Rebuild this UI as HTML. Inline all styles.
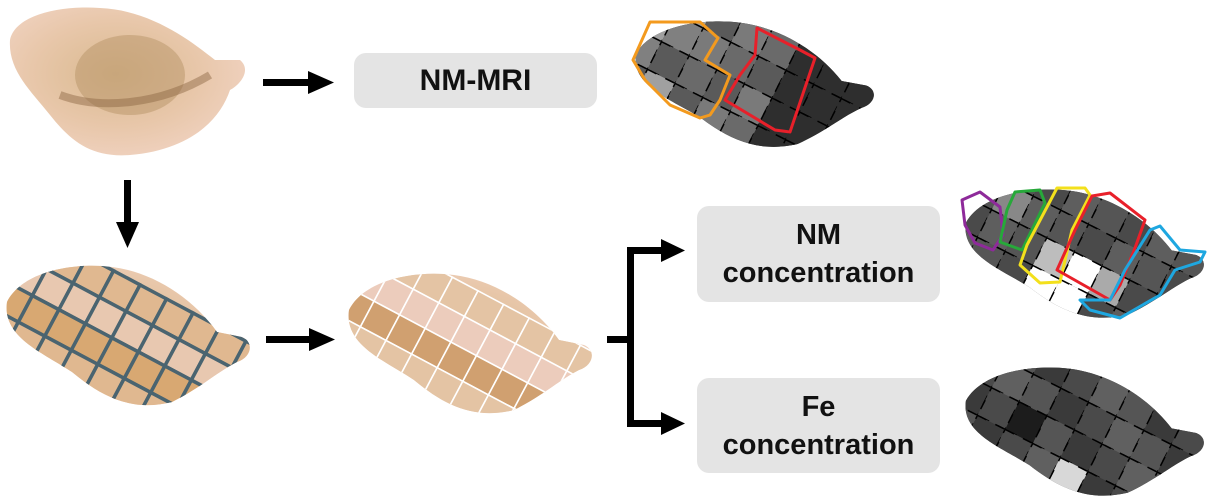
<!DOCTYPE html>
<html><head><meta charset="utf-8">
<style>
html,body{margin:0;padding:0;background:#fff;overflow:hidden;}
body{width:1213px;height:499px;overflow:hidden;position:relative;font-family:"Liberation Sans",Arial,sans-serif;}
.box{position:absolute;background:#e4e4e4;border-radius:12px;display:flex;align-items:center;justify-content:center;text-align:center;font-weight:bold;color:#111;}
svg{position:absolute;left:0;top:0;display:block;}
</style></head><body>
<svg id="s" width="1213" height="499" viewBox="0 0 1213 499">
<defs>
<path id="blob" d="M5,40 C20,10 70,0 110,5 C150,10 190,35 215,70 L240,75 C252,80 250,95 235,100 C215,110 200,125 170,140 C130,150 100,135 70,110 C40,90 0,75 5,40 Z"/>
<clipPath id="c1"><use href="#blob" transform="translate(2,262)"/></clipPath>
<clipPath id="c2"><use href="#blob" transform="translate(344,270)"/></clipPath>
<clipPath id="m1"><use href="#blob" transform="translate(631,18) scale(0.98,0.9)"/></clipPath>
<clipPath id="m2"><use href="#blob" transform="translate(961,186) scale(0.98,0.92)"/></clipPath>
<clipPath id="m3"><use href="#blob" transform="translate(961,364) scale(0.98,0.92)"/></clipPath>
<radialGradient id="tg" cx="0.45" cy="0.45" r="0.6"><stop offset="0" stop-color="#d9b98f"/><stop offset="0.6" stop-color="#e8c7aa"/><stop offset="1" stop-color="#f0d2c0"/></radialGradient>
</defs>
<path d="M10,40 C15,15 60,5 100,8 C150,10 190,40 215,60 L240,60 C252,70 240,85 230,90 C220,120 190,150 130,155 C90,158 70,140 50,115 C30,90 8,70 10,40Z" fill="url(#tg)"/>
<ellipse cx="130" cy="75" rx="55" ry="40" fill="#b89468" opacity="0.5"/>
<path d="M60,95 C100,110 160,105 210,75" stroke="#8a6440" stroke-width="8" fill="none" opacity="0.45"/>
<use href="#blob" transform="translate(2,262)" fill="url(#tg)"/>
<g id="g1" clip-path="url(#c1)"></g>
<use href="#blob" transform="translate(344,270)" fill="url(#tg)"/>
<g id="g2" clip-path="url(#c2)"></g>
<use href="#blob" transform="translate(631,18) scale(0.98,0.9)" fill="#2a2a2a"/>
<g id="g3" clip-path="url(#m1)"></g>
<use href="#blob" transform="translate(961,186) scale(0.98,0.92)" fill="#3a3a3a"/>
<g id="g4" clip-path="url(#m2)"></g>
<use href="#blob" transform="translate(961,364) scale(0.98,0.92)" fill="#444"/>
<g id="g5" clip-path="url(#m3)"></g>
<g fill="none" stroke-width="3" stroke-linejoin="round">
<polygon stroke="#f39a1e" points="633,60 650,22 700,22 718,38 705,60 730,75 720,100 710,115 700,118 670,105 645,80"/>
<polygon stroke="#e8202a" points="757,28 800,50 815,58 790,132 775,130 725,100 740,75 755,55"/>
<polygon stroke="#8e2a9a" points="962,200 980,192 1000,207 1003,235 993,250 975,243 965,225"/>
<polygon stroke="#27a83a" points="1015,192 1040,190 1045,203 1022,250 1000,242 1007,210"/>
<polygon stroke="#f3e01c" points="1057,188 1085,188 1090,195 1072,230 1060,282 1040,283 1020,265 1027,245"/>
<polygon stroke="#e8202a" points="1092,196 1110,193 1145,220 1135,248 1120,285 1110,300 1057,270 1075,230"/>
<polygon stroke="#1ea7e0" points="1150,230 1160,226 1180,250 1205,252 1200,262 1175,270 1160,295 1120,318 1090,310 1080,300 1110,300 1125,270"/>
</g>
<g fill="#000">
<rect x="263" y="79" width="48" height="7"/><polygon points="308,71 334,82.5 308,94"/>
<rect x="124" y="180" width="7" height="45"/><polygon points="116,222 139,222 127.5,248"/>
<rect x="266" y="336" width="46" height="7"/><polygon points="309,328 335,339.5 309,351"/>
<rect x="607" y="336" width="24" height="7"/>
<rect x="627" y="247" width="7" height="180"/>
<rect x="627" y="247" width="38" height="7"/><polygon points="661,239 685,250.5 661,262"/>
<rect x="627" y="420" width="38" height="7"/><polygon points="661,412 685,423.5 661,435"/>
</g>
</svg>
<div class="box" style="left:354px;top:53px;width:243px;height:55px;font-size:30px;">NM-MRI</div>
<div class="box" style="left:697px;top:206px;width:243px;height:96px;font-size:29px;line-height:38px;">NM<br>concentration</div>
<div class="box" style="left:697px;top:378px;width:243px;height:95px;font-size:29px;line-height:38px;">Fe<br>concentration</div>
<script>
var NS="http://www.w3.org/2000/svg";
function grid(id,ox,oy,ang,sz,nx,ny,fill,stroke,sw,dash){
  var g=document.getElementById(id);
  var a=ang*Math.PI/180,c=Math.cos(a),s=Math.sin(a);
  var k=0;
  for(var i=-1;i<nx;i++)for(var j=-1;j<ny;j++){
    var x=ox+i*sz*c-j*sz*s, y=oy+i*sz*s+j*sz*c;
    var r=document.createElementNS(NS,"rect");
    r.setAttribute("x",0);r.setAttribute("y",0);r.setAttribute("width",sz);r.setAttribute("height",sz);
    r.setAttribute("transform","translate("+x+","+y+") rotate("+ang+")");
    r.setAttribute("fill",fill(i,j,k++));
    if(stroke){r.setAttribute("stroke",stroke);r.setAttribute("stroke-width",sw);if(dash)r.setAttribute("stroke-dasharray",dash);}
    g.appendChild(r);
  }
}
function pick(arr){return function(i,j,k){return arr[((i*7+j*3+k*5)%arr.length+arr.length)%arr.length];};}
grid("g1",20,255,28,30,9,6,pick(["#d8a872","#c89862","#e0b890","#b48050","#e8c8b0","#f0d0c8"]),"#4a6470",3.5);
grid("g2",362,262,28,29,9,6,pick(["#d0a070","#b88a5c","#e4c4a4","#a87850","#ecccbc","#f0d4c8"]),"#fff",1.6);
grid("g3",648,0,27,31,9,6,function(i,j){if(i<=1&&j<=2)return ["#a0a0a0","#808080","#5a5a5a"][(i+j+3)%3];if(i>=2&&i<=4&&j<=3)return ["#6a6a6a","#5a5a5a","#7a7a7a"][(i+j+3)%3];return "#2e2e2e";},"#000",1.5,"10 10");
grid("g4",978,168,27,31,9,6,function(i,j){if(i==4&&j>=1&&j<=2)return "#fff";if(i==3&&j==2)return "#fff";if(i==3&&j==1)return "#bdbdbd";if(i==5&&j==1)return "#aaa";if(i==1&&j==0)return "#888";return ["#555","#4a4a4a","#5e5e5e"][(i+j+6)%3];},"#000",1.5,"10 10");
grid("g5",978,346,27,31,9,6,function(i,j){if(i==4&&j==2)return "#d8d8d8";if(i==3&&j==3)return "#999";if(i==2&&j==1)return "#1c1c1c";if(i==5&&j==3)return "#1a1a1a";return ["#4a4a4a","#3a3a3a","#555","#606060"][(i*3+j+8)%4];},"#000",1.5,"10 10");
</script>
</body></html>
